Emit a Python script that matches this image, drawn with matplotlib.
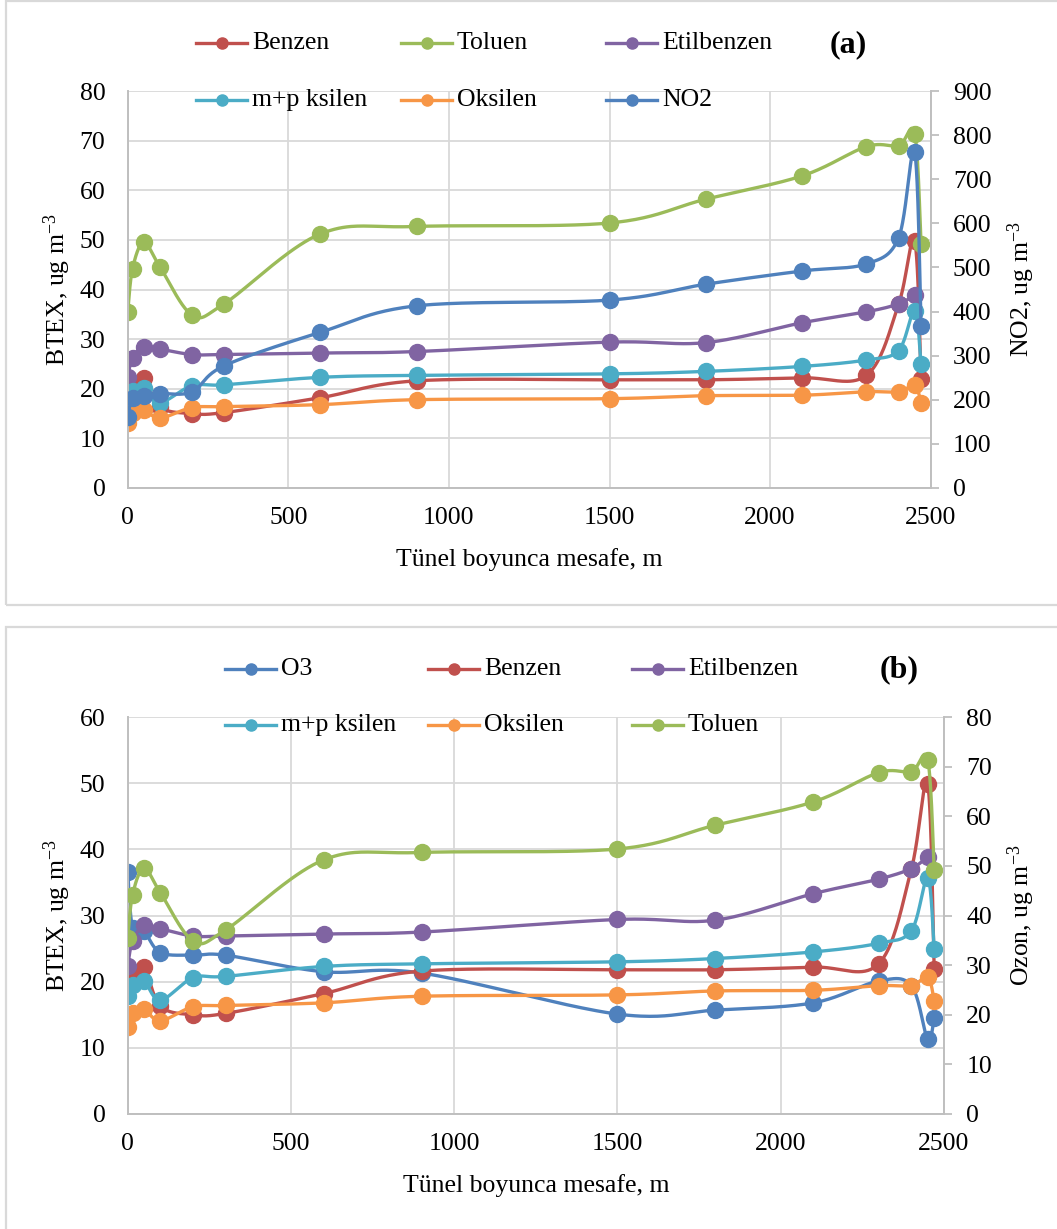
import numpy as np
import matplotlib
matplotlib.use("Agg")
import matplotlib.pyplot as plt
from matplotlib.lines import Line2D
from matplotlib.patches import Rectangle

plt.rcParams['font.family'] = ['Liberation Serif', 'DejaVu Serif']
plt.rcParams['mathtext.fontset'] = 'custom'
plt.rcParams['mathtext.rm'] = 'Liberation Serif'
plt.rcParams['mathtext.it'] = 'Liberation Serif:italic'

# ---- data: concentrations along the tunnel ----
distance = [0, 15, 50, 100, 200, 300, 600, 900, 1500, 1800, 2100, 2300, 2400, 2450, 2470]
benzen = [19.0, 20.4, 22.2, 16.3, 15.0, 15.2, 18.2, 21.6, 21.8, 21.8, 22.2, 22.7, 37.0, 49.8, 21.9]
toluen = [35.4, 44.2, 49.5, 44.6, 34.9, 37.1, 51.2, 52.7, 53.4, 58.2, 62.9, 68.8, 69.0, 71.4, 49.1]
etilbenzen = [22.4, 26.2, 28.5, 28.0, 26.9, 26.9, 27.2, 27.5, 29.4, 29.3, 33.3, 35.5, 37.1, 38.9, np.nan]
mp_ksilen = [17.9, 19.5, 20.1, 17.2, 20.6, 20.8, 22.3, 22.7, 23.0, 23.5, 24.5, 25.8, 27.7, 35.7, 24.9]
oksilen = [13.1, 15.2, 15.8, 14.1, 16.2, 16.4, 16.8, 17.8, 18.0, 18.6, 18.7, 19.4, 19.4, 20.7, 17.1]
no2 = [160, 205, 208, 214, 218, 277, 353, 413, 426, 462, 492, 508, 567, 761, 368]
o3 = [36.5, 28.1, 27.6, 24.4, 24.0, 24.0, 21.5, 21.3, 15.1, 15.7, 16.8, 20.1, 19.4, 11.3, 14.5]

x_ticks = [0, 500, 1000, 1500, 2000, 2500]

C_BLUE = '#4F81BD'
C_RED = '#C0504D'
C_GREEN = '#9BBB59'
C_PURPLE = '#8064A2'
C_AQUA = '#4BACC6'
C_ORANGE = '#F79646'

GRID = '#D9D9D9'
SPINE = '#BFBFBF'
FS = 18.5

W, H = 1057, 1229
fig = plt.figure(figsize=(W / 100, H / 100), dpi=100)


def fx(px):
    return px / W


def fy(py):
    return 1 - py / H


def smooth(x, y, n=40):
    """Excel-style smoothed line: cubic Bezier segments with Catmull-Rom tangents."""
    x = np.asarray(x, float)
    y = np.asarray(y, float)
    ok = ~np.isnan(y)
    pts = np.column_stack([x[ok], y[ok]])
    out = []
    t = np.linspace(0, 1, n)[:, None]
    for i in range(len(pts) - 1):
        p0 = pts[max(i - 1, 0)]
        p1 = pts[i]
        p2 = pts[i + 1]
        p3 = pts[min(i + 2, len(pts) - 1)]
        c1 = p1 + (p2 - p0) / 6
        c2 = p2 - (p3 - p1) / 6
        seg = (1 - t) ** 3 * p1 + 3 * (1 - t) ** 2 * t * c1 + 3 * (1 - t) * t ** 2 * c2 + t ** 3 * p2
        out.append(seg if i == 0 else seg[1:])
    s = np.vstack(out)
    return s[:, 0], s[:, 1]


def series(ax, y, color):
    sx, sy = smooth(distance, y)
    ax.plot(sx, sy, color=color, lw=2.4, solid_capstyle='round')
    ax.plot(distance, y, ls='none', marker='o', ms=11.5, color=color,
            markeredgecolor=color)


def style_axes(ax, ax2, ymax, y2max, y2step, ylabel, y2label, width_px):
    ax.set_xlim(0, 2500)
    ax.set_xticks(x_ticks)
    ax.set_ylim(0, ymax)
    ax.set_yticks(np.arange(0, ymax + 1, 10))
    ax.grid(True, color=GRID, lw=1.3)
    ax.set_axisbelow(True)
    ax.tick_params(axis='y', length=0, pad=16, labelsize=FS)
    ax.tick_params(axis='x', length=0, pad=14, labelsize=FS)
    for s in ['left', 'bottom']:
        ax.spines[s].set_color(SPINE)
        ax.spines[s].set_linewidth(1.4)
    ax.spines['top'].set_visible(False)
    ax.spines['right'].set_visible(False)

    ax2.set_ylim(0, y2max)
    ax2.set_yticks(np.arange(0, y2max + 1, y2step))
    ax2.tick_params(axis='y', length=6, width=1.3, color=SPINE, direction='out',
                    pad=10, labelsize=FS)
    for s in ['left', 'top', 'bottom']:
        ax2.spines[s].set_visible(False)
    ax2.spines['right'].set_color(SPINE)
    ax2.spines['right'].set_linewidth(1.4)

    ax.set_xlabel('Tünel boyunca mesafe, m', fontsize=FS)
    ax.xaxis.set_label_coords(0.5, -72 / 397)
    ax.xaxis.label.set_va('center')
    ax.set_ylabel(ylabel, fontsize=FS)
    ax.yaxis.set_label_coords((57 - 127.7) / width_px, 0.5)
    ax.yaxis.label.set_va('center')
    ax2.set_ylabel(y2label, fontsize=FS, rotation=90)
    ax2.yaxis.set_label_coords((1021 - 127.7) / width_px, 0.5)
    ax2.yaxis.label.set_va('center')


def legend_entry(x_px, y_px, text, color):
    fig.add_artist(Line2D([fx(x_px), fx(x_px + 51)], [fy(y_px), fy(y_px)],
                          transform=fig.transFigure, color=color, lw=2.4))
    fig.add_artist(Line2D([fx(x_px + 25.5)], [fy(y_px)], transform=fig.transFigure,
                          marker='o', ms=8, color=color, ls='none'))
    fig.text(fx(x_px + 56), fy(y_px), text, fontsize=FS, va='center', ha='left')


# panel frames
fig.add_artist(Rectangle((fx(6), fy(605)), 1.1, fy(1) - fy(605), transform=fig.transFigure,
                         fill=False, ec='#D9D9D9', lw=1.6))
fig.add_artist(Rectangle((fx(6), -0.1), 1.1, fy(627) + 0.1, transform=fig.transFigure,
                         fill=False, ec='#D9D9D9', lw=1.6))

# ---------------- (a) BTEX and NO2 ----------------
wa = 930.7 - 127.7
axa = fig.add_axes([fx(127.7), fy(488), wa / W, (488 - 91) / H])
axa2 = axa.twinx()
series(axa, benzen, C_RED)
series(axa, toluen, C_GREEN)
series(axa, etilbenzen, C_PURPLE)
series(axa, mp_ksilen, C_AQUA)
series(axa, oksilen, C_ORANGE)
series(axa2, no2, C_BLUE)
style_axes(axa, axa2, 80, 900, 100, 'BTEX, ug m$^{-3}$', 'NO2, ug m$^{-3}$', wa)

for (xp, yp, txt, col) in [(196, 43, 'Benzen', C_RED), (401, 43, 'Toluen', C_GREEN),
                           (606, 43, 'Etilbenzen', C_PURPLE),
                           (196, 100, 'm+p ksilen', C_AQUA), (401, 100, 'Oksilen', C_ORANGE),
                           (606, 100, 'NO2', C_BLUE)]:
    legend_entry(xp, yp, txt, col)
fig.text(fx(848), fy(45), '(a)', fontsize=23, fontweight='bold', ha='center', va='center')

# ---------------- (b) BTEX and O3 ----------------
wb = 944 - 127.7
axb = fig.add_axes([fx(127.7), fy(1114), wb / W, (1114 - 717) / H])
axb2 = axb.twinx()
series(axb, o3, C_BLUE)
series(axb, benzen, C_RED)
series(axb, etilbenzen, C_PURPLE)
series(axb, mp_ksilen, C_AQUA)
series(axb, oksilen, C_ORANGE)
series(axb2, toluen, C_GREEN)
style_axes(axb, axb2, 60, 80, 10, 'BTEX, ug m$^{-3}$', 'Ozon, ug m$^{-3}$', wb)

for (xp, yp, txt, col) in [(225, 669, 'O3', C_BLUE), (428, 669, 'Benzen', C_RED),
                           (632, 669, 'Etilbenzen', C_PURPLE),
                           (225, 725, 'm+p ksilen', C_AQUA), (428, 725, 'Oksilen', C_ORANGE),
                           (632, 725, 'Toluen', C_GREEN)]:
    legend_entry(xp, yp, txt, col)
fig.text(fx(899), fy(670), '(b)', fontsize=23, fontweight='bold', ha='center', va='center')

fig.savefig('out.png', dpi=100)
